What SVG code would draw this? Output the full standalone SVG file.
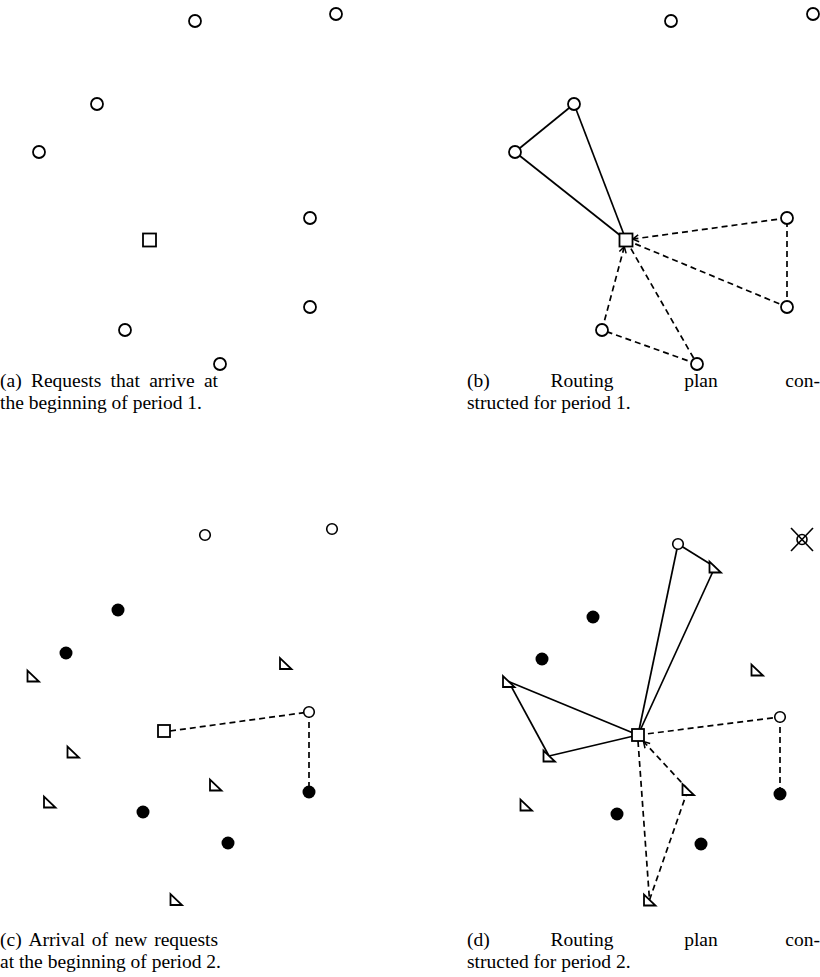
<svg xmlns="http://www.w3.org/2000/svg" xmlns:xlink="http://www.w3.org/1999/xlink" width="820" height="977" viewBox="0 0 820 977">
<style>
  .oc { fill: #fff; stroke: #000; stroke-width: 1.8; }
  .oc2 { fill: #fff; stroke: #000; stroke-width: 1.6; }
  .fc { fill: #000; stroke: none; }
  .sq { fill: #fff; stroke: #000; stroke-width: 1.8; }
  .tri { fill: #fff; stroke: #000; stroke-width: 1.8; stroke-linejoin: miter; }
  .solid { fill: none; stroke: #000; stroke-width: 1.7; }
  .dash { fill: none; stroke: #000; stroke-width: 1.7; stroke-dasharray: 6 4; }
  .xl { stroke: #000; stroke-width: 1.6; }
  .cap { font-family: "Liberation Serif", "DejaVu Serif", serif; font-size: 19.5px; fill: #000; }
</style>
<defs>
  <path id="tri" d="M-5.5,-5.5 L-5.5,5.5 L6,5.5 Z"/>
  <marker id="arr" markerUnits="userSpaceOnUse" markerWidth="10" markerHeight="10" viewBox="0 0 10 10" refX="7" refY="5" orient="auto">
    <path d="M1,1.5 L7,5 L1,8.5" fill="none" stroke="#000" stroke-width="1.5" stroke-dasharray="none"/>
  </marker>
</defs>

<!-- Panel (a) -->
<g id="panel-a">
  <g id="a-n1"><circle class="oc" cx="195" cy="21" r="6"/></g>
  <g id="a-n2"><circle class="oc" cx="336" cy="14" r="6"/></g>
  <g id="a-n3"><circle class="oc" cx="97" cy="104" r="6"/></g>
  <g id="a-n4"><circle class="oc" cx="39" cy="152" r="6"/></g>
  <g id="a-n5"><circle class="oc" cx="310" cy="218" r="6"/></g>
  <g id="a-n6"><circle class="oc" cx="310" cy="307" r="6"/></g>
  <g id="a-n7"><circle class="oc" cx="125" cy="330" r="6"/></g>
  <g id="a-n8"><circle class="oc" cx="220" cy="364" r="6"/></g>
  <g id="a-depot"><rect class="sq" x="143" y="233.5" width="13" height="13"/></g>
</g>

<!-- Panel (b) -->
<g id="b-connectors">
  <line class="solid" x1="626" y1="240" x2="574" y2="104"/>
  <line class="solid" x1="574" y1="104" x2="515" y2="152"/>
  <line class="solid" x1="515" y1="152" x2="626" y2="240"/>
  <line class="dash" x1="626" y1="240" x2="787" y2="307"/>
  <line class="dash" x1="787" y1="307" x2="787" y2="218"/>
  <line class="dash" x1="787" y1="218" x2="632.7" y2="239.1" marker-end="url(#arr)"/>
  <line class="dash" x1="626" y1="240" x2="697" y2="364"/>
  <line class="dash" x1="697" y1="364" x2="602" y2="330"/>
  <line class="dash" x1="602" y1="330" x2="624.3" y2="246.7" marker-end="url(#arr)"/>
</g>
<g id="panel-b">
  <g id="b-n1"><circle class="oc" cx="671" cy="21" r="6"/></g>
  <g id="b-n2"><circle class="oc" cx="813" cy="14" r="6"/></g>
  <g id="b-n3"><circle class="oc" cx="574" cy="104" r="6"/></g>
  <g id="b-n4"><circle class="oc" cx="515" cy="152" r="6"/></g>
  <g id="b-n5"><circle class="oc" cx="787" cy="218" r="6"/></g>
  <g id="b-n6"><circle class="oc" cx="787" cy="307" r="6"/></g>
  <g id="b-n7"><circle class="oc" cx="602" cy="330" r="6"/></g>
  <g id="b-n8"><circle class="oc" cx="697" cy="364" r="6"/></g>
  <g id="b-depot"><rect class="sq" x="619.5" y="233.5" width="13" height="13"/></g>
</g>

<!-- Panel (c) -->
<g id="c-connectors">
  <line class="dash" x1="170" y1="731" x2="309" y2="712"/>
  <line class="dash" x1="309" y1="712" x2="309" y2="792"/>
</g>
<g id="panel-c">
  <g id="c-n1"><circle class="oc2" cx="205" cy="535" r="5.3"/></g>
  <g id="c-n2"><circle class="oc2" cx="332" cy="529" r="5.3"/></g>
  <g id="c-n3"><circle class="oc2" cx="309" cy="712" r="5.3"/></g>
  <g id="c-f1"><circle class="fc" cx="118" cy="610" r="6.5"/></g>
  <g id="c-f2"><circle class="fc" cx="66" cy="653" r="6.5"/></g>
  <g id="c-f3"><circle class="fc" cx="143" cy="812" r="6.5"/></g>
  <g id="c-f4"><circle class="fc" cx="228" cy="843" r="6.5"/></g>
  <g id="c-f5"><circle class="fc" cx="309" cy="792" r="6.5"/></g>
  <g id="c-t1"><use xlink:href="#tri" class="tri" x="33" y="676"/></g>
  <g id="c-t2"><use xlink:href="#tri" class="tri" x="285.5" y="663.5"/></g>
  <g id="c-t3"><use xlink:href="#tri" class="tri" x="73" y="752"/></g>
  <g id="c-t4"><use xlink:href="#tri" class="tri" x="49.5" y="802"/></g>
  <g id="c-t5"><use xlink:href="#tri" class="tri" x="215.5" y="785"/></g>
  <g id="c-t6"><use xlink:href="#tri" class="tri" x="176" y="899.5"/></g>
  <g id="c-depot"><rect class="sq" x="158" y="725" width="12" height="12"/></g>
</g>

<!-- Panel (d) -->
<g id="d-connectors">
  <line class="solid" x1="638" y1="735" x2="678" y2="544"/>
  <line class="solid" x1="678" y1="544" x2="715" y2="567"/>
  <line class="solid" x1="715" y1="567" x2="638" y2="735"/>
  <line class="solid" x1="638" y1="735" x2="508.5" y2="681.5"/>
  <line class="solid" x1="508.5" y1="681.5" x2="549" y2="756"/>
  <line class="solid" x1="549" y1="756" x2="638" y2="735"/>
  <line class="dash" x1="638" y1="735" x2="780" y2="717"/>
  <line class="dash" x1="780" y1="717" x2="780" y2="794"/>
  <line class="dash" x1="638" y1="741" x2="649.5" y2="900"/>
  <line class="dash" x1="649.5" y1="900" x2="688" y2="789.5"/>
  <line class="dash" x1="688" y1="789.5" x2="643.5" y2="741.5" marker-end="url(#arr)"/>
</g>
<g id="panel-d">
  <g id="d-n1"><circle class="oc2" cx="678" cy="544" r="5.3"/></g>
  <g id="d-x1">
    <line class="xl" x1="791" y1="528" x2="813" y2="551"/>
    <line class="xl" x1="813" y1="528" x2="791" y2="551"/>
    <circle cx="802" cy="539.5" r="5" fill="none" stroke="#000" stroke-width="1.6"/>
  </g>
  <g id="d-n2"><circle class="oc2" cx="780" cy="717" r="5.3"/></g>
  <g id="d-f1"><circle class="fc" cx="593" cy="617" r="6.5"/></g>
  <g id="d-f2"><circle class="fc" cx="542" cy="659" r="6.5"/></g>
  <g id="d-f3"><circle class="fc" cx="617" cy="814" r="6.5"/></g>
  <g id="d-f4"><circle class="fc" cx="780" cy="794" r="6.5"/></g>
  <g id="d-f5"><circle class="fc" cx="701" cy="844" r="6.5"/></g>
  <g id="d-t1"><use xlink:href="#tri" class="tri" x="715" y="567"/></g>
  <g id="d-t2"><use xlink:href="#tri" class="tri" x="757" y="670"/></g>
  <g id="d-t3"><use xlink:href="#tri" class="tri" x="508.5" y="681.5"/></g>
  <g id="d-t4"><use xlink:href="#tri" class="tri" x="549" y="756"/></g>
  <g id="d-t5"><use xlink:href="#tri" class="tri" x="688" y="789.5"/></g>
  <g id="d-t6"><use xlink:href="#tri" class="tri" x="526" y="805"/></g>
  <g id="d-t7"><use xlink:href="#tri" class="tri" x="649.5" y="900"/></g>
  <g id="d-depot"><rect class="sq" x="632" y="729" width="12" height="12"/></g>
</g>

<!-- Captions -->
<g id="captions">
  <text class="cap" y="387"><tspan x="0">(a)</tspan><tspan x="30.9">Requests</tspan><tspan x="110.6">that</tspan><tspan x="149.2">arrive</tspan><tspan x="203.9">at</tspan></text>
  <text class="cap" x="0" y="409">the beginning of period 1.</text>
  <text class="cap" y="387"><tspan x="467">(b)</tspan><tspan x="550.6">Routing</tspan><tspan x="684.2">plan</tspan><tspan x="785.3">con-</tspan></text>
  <text class="cap" x="467" y="409">structed for period 1.</text>
  <text class="cap" y="946"><tspan x="0">(c)</tspan><tspan x="28.5">Arrival</tspan><tspan x="91.7">of</tspan><tspan x="114.8">new</tspan><tspan x="154.2">requests</tspan></text>
  <text class="cap" x="0" y="968">at the beginning of period 2.</text>
  <text class="cap" y="946"><tspan x="467">(d)</tspan><tspan x="550.6">Routing</tspan><tspan x="684.2">plan</tspan><tspan x="785.3">con-</tspan></text>
  <text class="cap" x="467" y="968">structed for period 2.</text>
</g>
</svg>
